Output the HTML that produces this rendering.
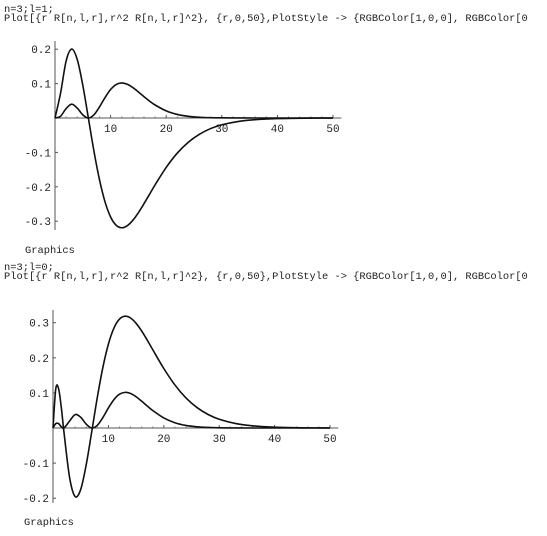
<!DOCTYPE html>
<html><head><meta charset="utf-8">
<style>
html,body{margin:0;padding:0;background:#fff;}
body{width:547px;height:536px;overflow:hidden;position:relative;font-family:"Liberation Mono",monospace;}
.t{position:absolute;left:4px;font-size:10.4px;color:#222;white-space:pre;line-height:10px;}
svg{position:absolute;left:0;top:0;}
svg text{font-family:"Liberation Mono",monospace;font-size:11px;fill:#222;}
</style></head><body>
<div class="t" style="top:5px">n=3;l=1;</div>
<div class="t" style="top:14px">Plot[{r R[n,l,r],r^2 R[n,l,r]^2}, {r,0,50},PlotStyle -&gt; {RGBColor[1,0,0], RGBColor[0</div>
<div class="t" style="top:246px;left:25px">Graphics</div>
<div class="t" style="top:263px">n=3;l=0;</div>
<div class="t" style="top:272px">Plot[{r R[n,l,r],r^2 R[n,l,r]^2}, {r,0,50},PlotStyle -&gt; {RGBColor[1,0,0], RGBColor[0</div>
<div class="t" style="top:518px;left:24px">Graphics</div>
<svg id="svg" width="547" height="536"></svg>
<script>
const rTop=[0,1,2,3,4,5,6,7,8,9,10,11,12,13,14,15,16,17,18,20,22,24,26,28,30,33,36,40,45,50];
const rRTop=[0,0.0723,0.1656,0.2003,0.1701,0.0952,0,-0.0959,-0.1794,-0.2440,-0.2877,-0.3118,-0.319,-0.3130,-0.2974,-0.2752,-0.2492,-0.2218,-0.1944,-0.1438,-0.1020,-0.0701,-0.0470,-0.0307,-0.0198,-0.0099,-0.0048,-0.0018,-0.0005,-0.0001];
const r2R2Top=[0,0.0052,0.0274,0.0401,0.0289,0.0091,0,0.0092,0.0322,0.0595,0.0828,0.0972,0.1018,0.0980,0.0884,0.0757,0.0621,0.0492,0.0378,0.0207,0.0104,0.0049,0.0022,0.0009,0.0004,0.0001,0,0,0,0];
const rBot=[0,0.5,1,1.5,2,3,4,5,6,7,8,9,10,11,12,13,14,15,16,17,18,20,22,24,26,28,30,33,36,40,45,50];
const rRBot=[0,0.1116,0.1124,0.0584,-0.0146,-0.1416,-0.1954,-0.1750,-0.1042,-0.0097,0.0872,0.1725,0.2390,0.2846,0.3103,0.3186,0.3134,0.2983,0.2764,0.2507,0.2233,0.1695,0.1227,0.0857,0.0582,0.0385,0.0250,0.0127,0.0062,0.0023,0.0006,0.0002];
const r2R2Bot=[0,0.0125,0.0126,0.0034,0.0002,0.0200,0.0382,0.0306,0.0109,0.0001,0.0076,0.0298,0.0571,0.0810,0.0963,0.1015,0.0982,0.0890,0.0764,0.0629,0.0499,0.0287,0.0151,0.0073,0.0034,0.0015,0.0006,0.0002,0,0,0,0];
const xTicks=[10,20,30,40,50];
const yTicksTop=[0.2,0.1,-0.1,-0.2,-0.3];
const yTicksBot=[0.3,0.2,0.1,-0.1,-0.2];
const yLabelsTop=["0.2","0.1","-0.1","-0.2","-0.3"];
const yLabelsBot=["0.3","0.2","0.1","-0.1","-0.2"];

const NS="http://www.w3.org/2000/svg";
const svg=document.getElementById('svg');
function mk(tag,attrs,parent){const e=document.createElementNS(NS,tag);for(const k in attrs)e.setAttribute(k,attrs[k]);(parent||svg).appendChild(e);return e;}
function pathFor(xs,ys,sx,sy){
  const P=xs.map((x,i)=>[sx(x),sy(ys[i])]);
  let d="M"+P[0][0].toFixed(2)+","+P[0][1].toFixed(2);
  for(let i=0;i<P.length-1;i++){
    const p0=P[Math.max(0,i-1)],p1=P[i],p2=P[i+1],p3=P[Math.min(P.length-1,i+2)];
    const c1=[p1[0]+(p2[0]-p0[0])/6,p1[1]+(p2[1]-p0[1])/6];
    const c2=[p2[0]-(p3[0]-p1[0])/6,p2[1]-(p3[1]-p1[1])/6];
    d+=" C"+c1[0].toFixed(2)+","+c1[1].toFixed(2)+" "+c2[0].toFixed(2)+","+c2[1].toFixed(2)+" "+p2[0].toFixed(2)+","+p2[1].toFixed(2);
  }
  return d;
}
function plot(cfg){
  const g=mk('g',{});
  
  
  const sx=v=>cfg.x0+(cfg.x50-cfg.x0)*v/50;
  const sy=v=>cfg.y0-v*cfg.perUnit;
  const xa=mk('line',{x1:cfg.x0,y1:cfg.y0,x2:sx(51.5),y2:cfg.y0,stroke:'#555','stroke-width':1},g);
  
  
  const ya=mk('line',{x1:cfg.x0,y1:cfg.yTopPix,x2:cfg.x0,y2:cfg.yBotPix,stroke:'#555','stroke-width':1},g);
  
  
  xTicks.forEach(t=>{
    mk('line',{x1:sx(t),y1:cfg.y0,x2:sx(t),y2:cfg.y0-3,stroke:'#555'},g);
    for(let k=1;k<5;k++)mk('line',{x1:sx(t-2*k),y1:cfg.y0,x2:sx(t-2*k),y2:cfg.y0-1.5,stroke:'#777'},g);
    const tx=mk('text',{x:sx(t),y:cfg.y0+14,'text-anchor':'middle'},g);
    tx.textContent=t;
    
    
  });
  cfg.yt.forEach((t,i)=>{
    mk('line',{x1:cfg.x0,y1:sy(t),x2:cfg.x0+3,y2:sy(t),stroke:'#555'},g);
    const tx=mk('text',{x:cfg.x0-4,y:sy(t)+4,'text-anchor':'end'},g);
    tx.textContent=cfg.yl[i];
    
    
  });
  const p1=mk('path',{d:pathFor(cfg.r,cfg.a,sx,sy),fill:'none',stroke:'#111','stroke-width':1.6},g);
  
  
  const p2=mk('path',{d:pathFor(cfg.r,cfg.b,sx,sy),fill:'none',stroke:'#111','stroke-width':1.6},g);
  
  
}
plot({name:'plot-n3-l1',x0:55,x50:333,y0:118,perUnit:344,yTopPix:41,yBotPix:230,yt:yTicksTop,yl:yLabelsTop,r:rTop,a:rRTop,b:r2R2Top});
plot({name:'plot-n3-l0',x0:53,x50:330,y0:428,perUnit:351,yTopPix:310,yBotPix:503,yt:yTicksBot,yl:yLabelsBot,r:rBot,a:rRBot,b:r2R2Bot});
</script>
</body></html>
